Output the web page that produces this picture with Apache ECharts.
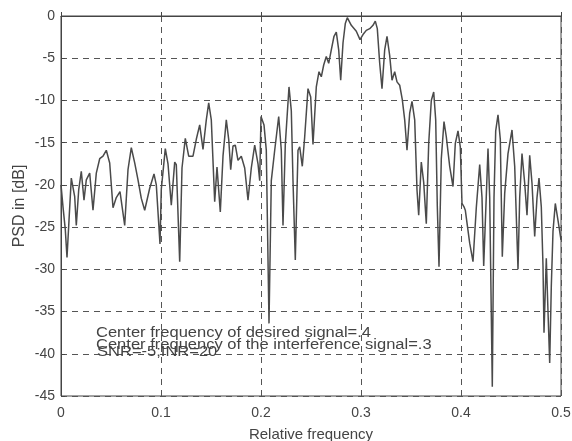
<!DOCTYPE html>
<html>
<head>
<meta charset="utf-8">
<script src="https://cdn.jsdelivr.net/npm/echarts@6/dist/echarts.min.js"></script>
<style>
html,body{margin:0;padding:0;background:#fff;}
#chart{width:572px;height:441px;}
</style>
</head>
<body>
<div id="chart"></div>
<script>
// Relative frequency values (x)
var freq = [
0.000,0.002,0.0043,0.006,0.008,0.0103,0.012,0.0137,0.0153,0.0177,
0.0203,0.023,0.0253,0.0287,0.032,0.0353,0.0387,0.042,0.0453,0.0487,
0.052,0.0553,0.059,0.0637,0.067,0.0703,0.0737,0.077,0.0803,0.0837,
0.0887,0.093,0.0953,0.099,0.1003,0.1043,0.107,0.1103,0.1137,0.1153,
0.1187,0.121,0.1243,0.1277,0.132,0.1353,0.1387,0.142,0.1453,0.1477,
0.1503,0.1537,0.156,0.1593,0.162,0.1653,0.1677,0.1697,0.172,0.1743,
0.177,0.1803,0.1837,0.187,0.1903,0.1937,0.197,0.1987,0.2000,0.203,
0.2053,0.208,0.2103,0.2137,0.2177,0.2203,0.222,0.2243,0.228,0.2303,
0.232,0.2343,0.237,0.2387,0.2413,0.2437,0.247,0.2497,0.252,0.2553,
0.258,0.2603,0.2627,0.2653,0.2677,0.2703,0.273,0.2753,0.2777,0.2797,
0.282,0.2843,0.2863,0.2903,0.2953,0.299,0.302,0.3053,0.3087,0.312,
0.3143,0.3163,0.3187,0.321,0.3237,0.326,0.3287,0.331,0.3337,0.336,
0.3387,0.3413,0.3437,0.346,0.3487,0.351,0.3537,0.356,0.3577,0.3603,
0.3627,0.3653,0.3677,0.3703,0.3727,0.3747,0.3763,0.378,0.3803,0.383,
0.3853,0.3887,0.392,0.3943,0.397,0.3993,0.401,0.403,0.4043,0.4087,
0.412,0.4153,0.4187,0.421,0.4227,0.4253,0.427,0.4287,0.4313,0.433,
0.4347,0.437,0.4393,0.4413,0.4437,0.447,0.451,0.4537,0.457,0.4587,
0.461,0.4637,0.466,0.4687,0.471,0.4737,0.476,0.478,0.4803,0.482,
0.483,0.4853,0.487,0.4887,0.4903,0.492,0.4943,0.497,0.5
];
// PSD values in dB
var psd = [
-20.0,-22.6,-25.3,-28.6,-24.2,-19.2,-19.0,-21.4,-24.8,-20.6,
-18.4,-21.8,-19.4,-18.6,-23.0,-18.6,-16.9,-16.6,-15.9,-17.4,
-22.7,-21.5,-20.8,-24.8,-18.2,-15.6,-17.4,-19.4,-21.6,-23.0,
-20.4,-18.7,-20.0,-27.0,-20.5,-15.7,-17.5,-22.4,-17.3,-17.6,
-29.1,-18.0,-14.5,-16.6,-16.6,-14.6,-12.9,-15.8,-12.3,-10.3,
-12.3,-22.0,-17.9,-23.2,-16.6,-12.3,-14.6,-18.2,-15.4,-15.3,
-17.1,-16.6,-18.0,-21.8,-18.0,-15.3,-17.5,-19.5,-11.9,-12.9,
-15.9,-36.4,-19.5,-15.9,-11.9,-15.9,-24.8,-15.2,-8.4,-11.2,
-19.5,-28.9,-15.9,-15.5,-17.8,-14.3,-8.6,-9.6,-15.2,-8.4,
-6.6,-7.2,-5.8,-4.8,-5.6,-4.0,-2.4,-1.9,-4.0,-7.6,
-3.2,-0.9,-0.2,-1.1,-1.8,-2.8,-2.2,-1.7,-1.5,-1.1,
-0.6,-1.5,-5.6,-8.6,-4.0,-2.4,-4.7,-7.6,-6.6,-7.8,
-8.2,-9.9,-12.3,-15.9,-11.5,-10.1,-12.3,-20.6,-23.6,-17.3,
-19.7,-24.6,-15.1,-10.0,-9.0,-12.3,-22.5,-29.7,-16.9,-12.5,
-14.3,-17.8,-20.2,-15.1,-13.6,-15.5,-22.2,-22.6,-23.0,-26.9,
-29.1,-22.7,-17.6,-21.5,-29.6,-21.3,-15.7,-21.5,-43.9,-21.5,
-13.6,-11.7,-14.6,-28.5,-21.0,-16.3,-13.5,-17.8,-30.0,-21.5,
-16.3,-19.8,-23.6,-16.5,-19.8,-26.1,-21.5,-19.2,-22.6,-29.6,
-37.5,-28.7,-35.0,-41.1,-32.0,-25.5,-22.2,-24.2,-26.5
];
var xTicks = {min: 0, max: 0.5, step: 0.1};
var yTicks = {min: -45, max: 0, step: 5};
var xTitle = 'Relative frequency';
var yTitle = 'PSD in [dB]';
var notes = [
  'Center frequency of desired signal=.4',
  'Center frequency of the interference signal=.3',
  'SNR=-5;INR=20'
];

var points = freq.map(function (f, i) { return [f, psd[i]]; });
var txtColor = '#444';
var font = 'Liberation Sans, Arial, sans-serif';

var chart = echarts.init(document.getElementById('chart'), null, {renderer: 'canvas'});
chart.setOption({
  animation: false,
  backgroundColor: '#fff',
  grid: {left: 61, right: 11, top: 16, bottom: 45, show: true, borderColor: '#444', borderWidth: 1, containLabel: false, outerBoundsMode: 'none'},
  xAxis: {
    type: 'value', min: xTicks.min, max: xTicks.max, interval: xTicks.step,
    name: xTitle, nameLocation: 'middle', nameGap: 31, nameMoveOverlap: false,
    nameTextStyle: {fontFamily: font, fontSize: 15, color: txtColor},
    axisLine: {show: true, lineStyle: {color: '#444', width: 1}},
    axisTick: {show: true, inside: true, length: 4, lineStyle: {color: '#444'}},
    axisLabel: {fontFamily: font, fontSize: 14, color: txtColor, margin: 10},
    splitLine: {show: true, lineStyle: {color: '#555', width: 1, type: [6, 5]}}
  },
  yAxis: {
    type: 'value', min: yTicks.min, max: yTicks.max, interval: yTicks.step,
    name: yTitle, nameLocation: 'middle', nameGap: 33, nameMoveOverlap: false,
    nameTextStyle: {fontFamily: font, fontSize: 16, color: txtColor},
    axisLine: {show: true, lineStyle: {color: '#444', width: 1}},
    axisTick: {show: true, inside: true, length: 4, lineStyle: {color: '#444'}},
    axisLabel: {fontFamily: font, fontSize: 14, color: txtColor, margin: 6},
    splitLine: {show: true, lineStyle: {color: '#555', width: 1, type: [6, 5]}}
  },
  series: [{
    type: 'line',
    data: points,
    symbol: 'none',
    smooth: false,
    lineStyle: {color: '#4a4a4a', width: 1.5},
    z: 3
  }],
  graphic: [
    {type: 'text', left: 96, top: 326, scaleX: 1.18, style: {text: notes[0], fontFamily: font, fontSize: 14, fill: txtColor}, z: 10},
    {type: 'text', left: 96, top: 338, scaleX: 1.18, style: {text: notes[1], fontFamily: font, fontSize: 14, fill: txtColor}, z: 10},
    {type: 'text', left: 97, top: 345, scaleX: 1.18, style: {text: notes[2], fontFamily: font, fontSize: 14, fill: txtColor}, z: 10}
  ]
});
</script>
</body>
</html>
